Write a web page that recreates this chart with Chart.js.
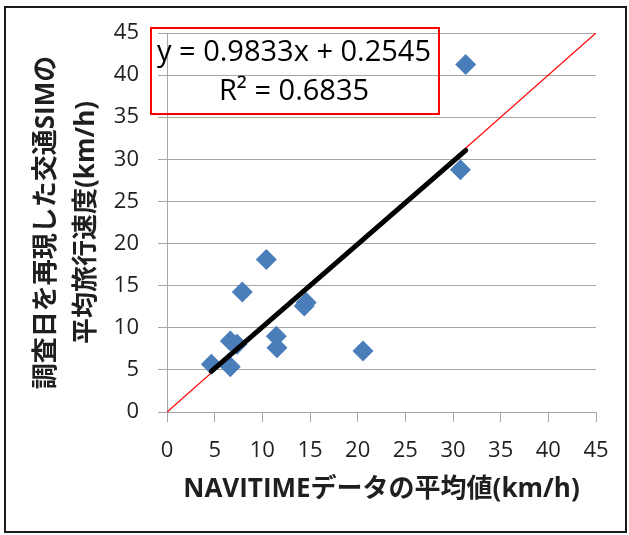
<!DOCTYPE html>
<html lang="ja">
<head>
<meta charset="utf-8">
<title>NAVITIME vs 交通SIM</title>
<script src="https://cdn.jsdelivr.net/npm/chart.js@4.4.1/dist/chart.umd.min.js"></script>
<style>
  html, body { margin: 0; padding: 0; background: #fff; }
  #wrap { position: relative; width: 629px; height: 535px; }
</style>
</head>
<body>
<div id="wrap"><canvas id="chart"></canvas></div>
<script>
// valores (x = NAVITIME, y = SIM)
const navitime = [4.65, 6.64, 6.64, 7.35, 7.9, 10.42, 11.47, 11.54, 14.4, 14.6, 20.56, 30.78, 31.33];
const simSpeed = [5.66, 5.38, 8.42, 8.03, 14.24, 18.1, 9.0, 7.64, 12.6, 13.0, 7.24, 28.77, 41.25];
// linha de tendencia (pontas) e linha y = x
const trendX = [4.65, 31.33];
const trendY = [4.83, 31.06];
const diagX = [0, 45];
const diagY = [0, 45];
const equationLines = ['y = 0.9833x + 0.2545', 'R\u00B2 = 0.6835'];
const xTitle = 'NAVITIMEデータの平均値(km/h)';
const yTitle = ['調査日を再現した交通SIMの', '平均旅行速度(km/h)'];
const axisMin = 0, axisMax = 45, axisStep = 5;

const toPoints = (xs, ys) => xs.map((x, i) => ({ x, y: ys[i] }));

const gridColor = '#a6a6a6';
const textColor = '#1f1f1f';
const titleFont = { family: "'Open Sans', 'Noto Sans CJK JP'", size: 26, weight: 'bold', lineHeight: 1.54 };
const tickFont = { family: "'Open Sans'", size: 22 };

// moldura preta em volta de tudo e a caixa vermelha da equacao
const framePlugin = {
  id: 'frame',
  afterDraw(chart) {
    const ctx = chart.ctx;
    ctx.save();
    ctx.strokeStyle = '#1a1a1a';
    ctx.lineWidth = 2;
    ctx.strokeRect(5, 7, 621, 525);
    ctx.strokeStyle = '#ff0000';
    ctx.strokeRect(151, 28, 288, 86);
    ctx.fillStyle = '#000';
    ctx.font = "29px 'Open Sans'";
    ctx.textAlign = 'center';
    ctx.textBaseline = 'middle';
    ctx.fillText(equationLines[0], 294, 53);
    ctx.fillText(equationLines[1], 294, 92);
    ctx.restore();
  }
};

new Chart(document.getElementById('chart'), {
  type: 'scatter',
  data: {
    datasets: [
      {
        type: 'line',
        data: toPoints(trendX, trendY),
        borderColor: '#000',
        borderWidth: 5,
        borderCapStyle: 'round',
        pointRadius: 0,
        order: 0
      },
      {
        data: toPoints(navitime, simSpeed),
        pointStyle: 'rectRot',
        pointRadius: 10.5,
        backgroundColor: '#4a7ebb',
        borderColor: '#4a7ebb',
        borderWidth: 0,
        order: 1
      },
      {
        type: 'line',
        data: toPoints(diagX, diagY),
        borderColor: '#ff0000',
        borderWidth: 1.3,
        pointRadius: 0,
        order: 2
      }
    ]
  },
  options: {
    responsive: true,
    maintainAspectRatio: false,
    animation: false,
    layout: { padding: { left: 0, top: 33, right: 33, bottom: 0 } },
    plugins: { legend: { display: false }, tooltip: { enabled: false } },
    scales: {
      x: {
        type: 'linear',
        min: axisMin, max: axisMax,
        ticks: { stepSize: axisStep, font: tickFont, color: textColor, padding: 16, maxRotation: 0 },
        grid: { drawOnChartArea: false, color: gridColor, tickLength: 10 },
        border: { color: gridColor },
        title: { display: true, text: xTitle, font: titleFont, color: textColor, padding: { top: 0, bottom: 25 } },
        afterFit: (scale) => { scale.height = 123; }
      },
      y: {
        type: 'linear',
        min: axisMin, max: axisMax,
        ticks: { stepSize: axisStep, font: tickFont, color: textColor, padding: 19 },
        grid: { color: gridColor, tickLength: 9 },
        border: { color: gridColor },
        title: { display: true, text: yTitle, font: titleFont, color: textColor, padding: { top: 27, bottom: 0 } },
        afterFit: (scale) => { scale.width = 167; }
      }
    }
  },
  plugins: [framePlugin]
});
</script>
</body>
</html>
